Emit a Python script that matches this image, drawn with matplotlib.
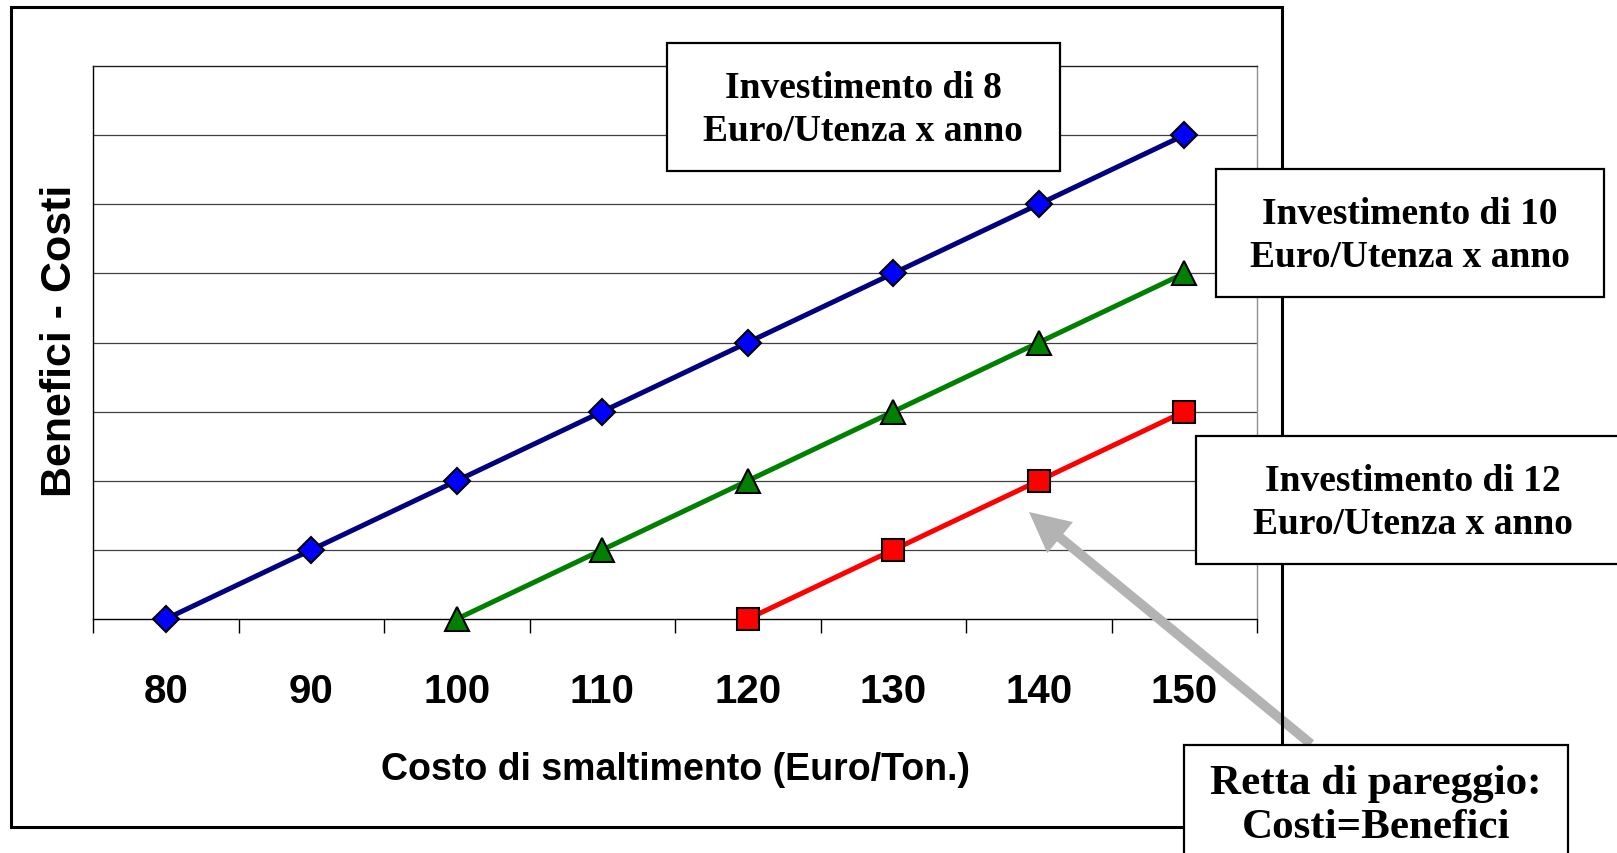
import numpy as np
import matplotlib
matplotlib.use("Agg")
from matplotlib import pyplot as plt
from matplotlib.patches import Rectangle

# === DATA ===
costs = [80, 90, 100, 110, 120, 130, 140, 150]
inv8 = [0, 1, 2, 3, 4, 5, 6, 7]
inv10 = [None, None, 0, 1, 2, 3, 4, 5]
inv12 = [None, None, None, None, 0, 1, 2, 3]

label8 = "Investimento di 8\nEuro/Utenza x anno"
label10 = "Investimento di 10\nEuro/Utenza x anno"
label12 = "Investimento di 12\nEuro/Utenza x anno"
label_break = "Retta di pareggio:\nCosti=Benefici"

W, H = 1617, 854


def fx(px):
    return px / W


def fy(py):
    return 1 - py / H


def series(vals):
    x = [i for i, v in enumerate(vals) if v is not None]
    y = [v for v in vals if v is not None]
    return x, y


fig = plt.figure(figsize=(W / 100, H / 100), dpi=100)
fig.patch.set_facecolor("white")

# outer chart border
fig.add_artist(Rectangle((fx(11), fy(828)), fx(1282) - fx(11), fy(8) - fy(828),
                         transform=fig.transFigure, fill=False,
                         edgecolor="black", linewidth=2.2, zorder=0.5))

ax = fig.add_axes([fx(93), fy(620), fx(1257) - fx(93), fy(67) - fy(620)])
ax.set_xlim(-0.5, len(costs) - 0.5)
ax.set_ylim(0, 8)

# gridlines
for g in range(1, 8):
    ax.axhline(g, color="#404040", linewidth=0.9, zorder=1)

x, y = series(inv8)
ax.plot(x, y, color="#000080", linewidth=3.6, marker="D", markersize=13,
        markerfacecolor="#0000FF", markeredgecolor="black",
        markeredgewidth=1.5, clip_on=False, zorder=5)
x, y = series(inv10)
ax.plot(x, y, color="#008000", linewidth=3.6, marker="^", markersize=17,
        markerfacecolor="#008000", markeredgecolor="black",
        markeredgewidth=1.5, clip_on=False, zorder=5)
x, y = series(inv12)
ax.plot(x, y, color="#FF0000", linewidth=3.6, marker="s", markersize=16,
        markerfacecolor="#FF0000", markeredgecolor="black",
        markeredgewidth=1.5, clip_on=False, zorder=5)

# axes styling
ax.set_yticks([])
ax.set_xticks(np.arange(-0.5, len(costs), 1.0))
ax.set_xticklabels([])
ax.tick_params(axis="x", which="major", direction="out", length=10,
               width=1.0, color="black")
ax.set_xticks(np.arange(len(costs)), minor=True)
ax.set_xticklabels([str(c) for c in costs], minor=True,
                   fontfamily="Liberation Sans", fontweight="bold",
                   fontsize=29)
ax.tick_params(axis="x", which="minor", length=0, pad=38)
ax.spines["left"].set_color("black")
ax.spines["bottom"].set_color("black")
ax.spines["top"].set_color("#202020")
ax.spines["right"].set_color("#909090")
for s in ax.spines.values():
    s.set_linewidth(1.0)

fig.text(fx(675), fy(770), "Costo di smaltimento (Euro/Ton.)",
         ha="center", va="center", fontfamily="Liberation Sans",
         fontweight="bold", fontsize=27)
fig.text(fx(60), fy(341), "Benefici - Costi", rotation=90,
         ha="center", va="center", fontfamily="Liberation Sans",
         fontweight="bold", fontsize=31)


def text_box(x0, y0, x1, y1, txt, cx, cy, size=27, spacing=1.32):
    fig.add_artist(Rectangle((fx(x0), fy(y1)), fx(x1) - fx(x0), fy(y0) - fy(y1),
                             transform=fig.transFigure, facecolor="white",
                             edgecolor="black", linewidth=1.6, zorder=2,
                             clip_on=False))
    fig.text(fx(cx), fy(cy), txt, ha="center", va="center",
             fontfamily="Liberation Serif", fontweight="bold",
             fontsize=size, linespacing=spacing, zorder=3)


text_box(667, 44, 1060, 172, label8, 863, 110)
text_box(1216, 170, 1604, 298, label10, 1410, 236)
text_box(1196, 437, 1625, 565, label12, 1413, 503)
text_box(1184, 746, 1568, 880, label_break, 1376, 806, size=31, spacing=1.2)

# arrow to the break-even line
ax.annotate("", xy=(1029, H - 513), xycoords="figure pixels",
            xytext=(1311, H - 745), textcoords="figure pixels",
            arrowprops=dict(facecolor="#b3b3b3", edgecolor="none",
                            width=7, headwidth=29, headlength=29,
                            shrink=0), zorder=4)

plt.savefig("out.png", dpi=100)
